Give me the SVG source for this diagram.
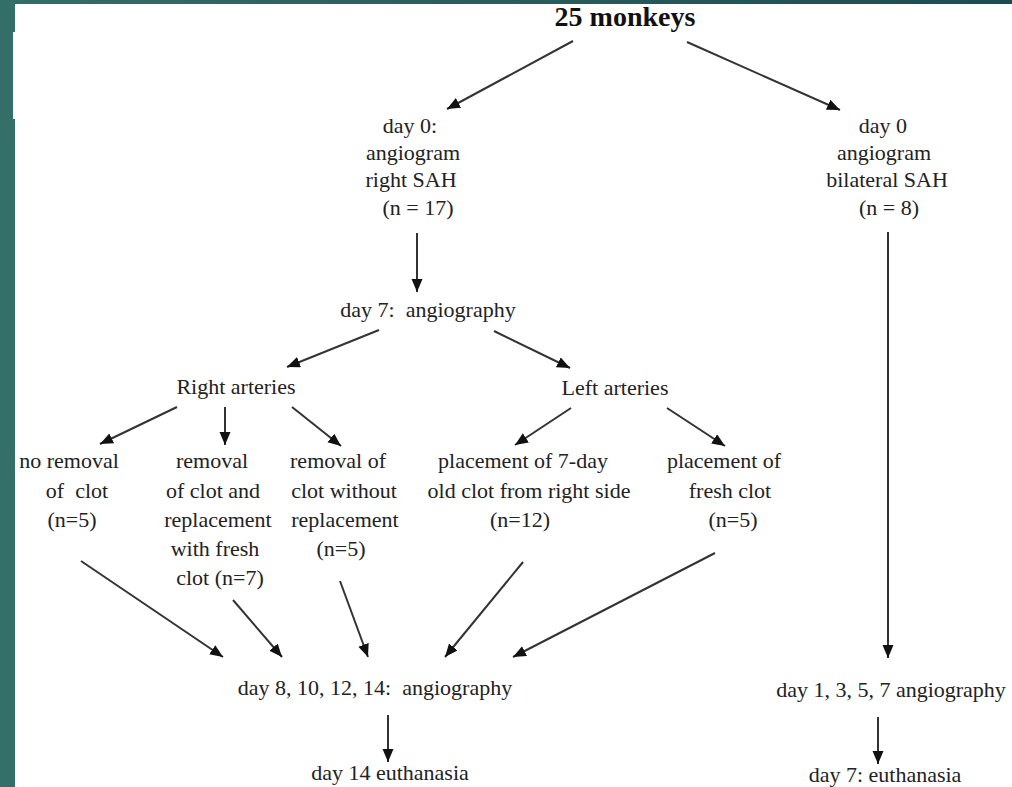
<svg xmlns="http://www.w3.org/2000/svg" width="1012" height="787" viewBox="0 0 1012 787">
  <defs>
    <linearGradient id="topbar" x1="0" y1="0" x2="1" y2="0">
      <stop offset="0" stop-color="#336e68"/>
      <stop offset="1" stop-color="#1e4b52"/>
    </linearGradient>
    <marker id="arrow" markerUnits="userSpaceOnUse" markerWidth="14" markerHeight="12" refX="13" refY="5.5" orient="auto">
      <path d="M0,0 L13,5.5 L0,11 z" fill="#111"/>
    </marker>
    <style>
      text { font-family: "Liberation Serif", "Times New Roman", serif; font-size: 22px; fill: #222; text-anchor: middle; white-space: pre; }
      .title { font-weight: bold; font-size: 28px; fill: #111; }
      .conn line { stroke: #333; stroke-width: 2; marker-end: url(#arrow); }
    </style>
  </defs>

  <!-- background -->
  <rect x="0" y="0" width="1012" height="787" fill="#ffffff"/>
  <rect x="0" y="0" width="1012" height="4" fill="url(#topbar)"/>
  <rect x="0" y="0" width="15" height="32" fill="#336e68"/>
  <rect x="0" y="32" width="13" height="87" fill="#336e68"/>
  <rect x="0" y="119" width="15" height="668" fill="#347069"/>

  <g id="n-monkeys"><text class="title" x="625" y="26">25 monkeys</text></g>

  <g id="n-right-sah">
    <text x="410" y="133">day 0:</text>
    <text x="413" y="160">angiogram</text>
    <text x="411" y="187">right SAH</text>
    <text x="418" y="215">(n = 17)</text>
  </g>

  <g id="n-bilateral-sah">
    <text x="883" y="133">day 0</text>
    <text x="884" y="160">angiogram</text>
    <text x="887" y="187">bilateral SAH</text>
    <text x="889" y="215">(n = 8)</text>
  </g>

  <g id="n-day7"><text x="428" y="317" xml:space="preserve">day 7:  angiography</text></g>

  <g id="n-right-arteries"><text x="236" y="394">Right arteries</text></g>
  <g id="n-left-arteries"><text x="615" y="395">Left arteries</text></g>

  <g id="n-no-removal">
    <text x="69" y="468">no removal</text>
    <text x="77" y="498" xml:space="preserve">of  clot</text>
    <text x="72" y="527">(n=5)</text>
  </g>

  <g id="n-removal-replacement">
    <text x="212" y="468">removal</text>
    <text x="213" y="498">of clot and</text>
    <text x="218" y="527">replacement</text>
    <text x="215" y="556">with fresh</text>
    <text x="220" y="585">clot (n=7)</text>
  </g>

  <g id="n-removal-no-replacement">
    <text x="338" y="468">removal of</text>
    <text x="344" y="498">clot without</text>
    <text x="345" y="527">replacement</text>
    <text x="341" y="556">(n=5)</text>
  </g>

  <g id="n-old-clot">
    <text x="523" y="468">placement of 7-day</text>
    <text x="529" y="498">old clot from right side</text>
    <text x="520" y="527">(n=12)</text>
  </g>

  <g id="n-fresh-clot">
    <text x="724" y="468">placement of</text>
    <text x="730" y="498">fresh clot</text>
    <text x="733" y="527">(n=5)</text>
  </g>

  <g id="n-day8-14"><text x="375" y="695" xml:space="preserve">day 8, 10, 12, 14:  angiography</text></g>
  <g id="n-day14-euth"><text x="390" y="780">day 14 euthanasia</text></g>

  <g id="n-day1-7"><text x="891" y="697">day 1, 3, 5, 7 angiography</text></g>
  <g id="n-day7-euth"><text x="885" y="782">day 7: euthanasia</text></g>

  <g id="connectors" class="conn">
    <line x1="573" y1="41" x2="447" y2="109"/>
    <line x1="687" y1="42" x2="840" y2="110"/>
    <line x1="417" y1="233" x2="417" y2="292"/>
    <line x1="888" y1="232" x2="888" y2="658"/>
    <line x1="379" y1="330" x2="287" y2="367"/>
    <line x1="494" y1="331" x2="570" y2="368"/>
    <line x1="177" y1="407" x2="100" y2="444"/>
    <line x1="225" y1="407" x2="225" y2="445"/>
    <line x1="292" y1="407" x2="341" y2="446"/>
    <line x1="571" y1="408" x2="515" y2="445"/>
    <line x1="667" y1="408" x2="725" y2="446"/>
    <line x1="81" y1="561" x2="223" y2="657"/>
    <line x1="233" y1="600" x2="282" y2="657"/>
    <line x1="340" y1="581" x2="368" y2="657"/>
    <line x1="523" y1="562" x2="445" y2="657"/>
    <line x1="715" y1="553" x2="513" y2="657"/>
    <line x1="388" y1="715" x2="388" y2="762"/>
    <line x1="878" y1="717" x2="878" y2="764"/>
  </g>
</svg>
